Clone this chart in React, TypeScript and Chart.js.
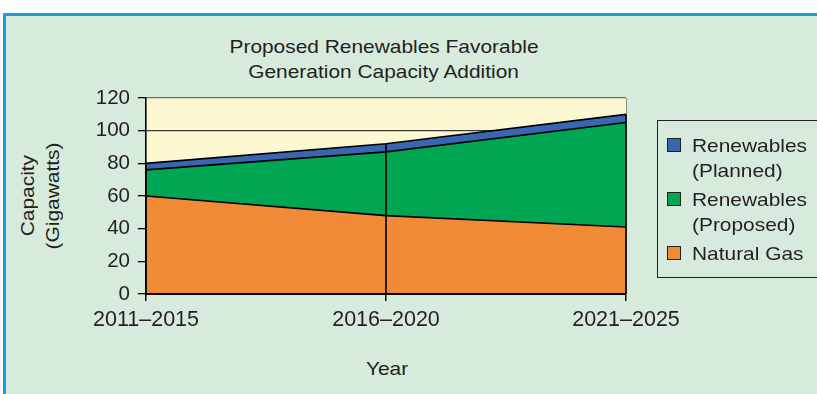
import React, { useEffect, useRef } from "react";
import { Chart, registerables } from "chart.js";

Chart.register(...registerables);

// Capacity additions by period, in gigawatts (stacked bottom to top)
const periods = ["2011–2015", "2016–2020", "2021–2025"];
const naturalGas = [60, 48, 41];
const renewablesProposed = [16, 39, 64];
const renewablesPlanned = [4, 5, 5];

const yMin = 0;
const yMax = 120;
const yStep = 20;

const titleLines = ["Proposed Renewables Favorable", "Generation Capacity Addition"];
const yTitleLines = ["Capacity", "(Gigawatts)"];
const xTitle = "Year";

const COLORS = {
  gas: "#f08a36",
  proposed: "#00a651",
  planned: "#3866b2",
  plot: "#fbf8d2",
  page: "#d7ebdd",
  frame: "#1c9fd9",
  ink: "#231f20",
};

// legend entries, top to bottom
const legendItems = [
  { lines: ["Renewables", "(Planned)"], color: COLORS.planned },
  { lines: ["Renewables", "(Proposed)"], color: COLORS.proposed },
  { lines: ["Natural Gas"], color: COLORS.gas },
];

const FONT = "'Liberation Sans', Arial, Helvetica, sans-serif";

const plotDecor = {
  id: "plotDecor",
  beforeDraw(chart: any) {
    const { ctx, chartArea } = chart;
    ctx.save();
    ctx.fillStyle = COLORS.plot;
    ctx.fillRect(chartArea.left, chartArea.top, chartArea.right - chartArea.left, chartArea.bottom - chartArea.top);
    ctx.restore();
  },
  afterDatasetsDraw(chart: any) {
    const { ctx, chartArea } = chart;
    const xs = chart.scales.x;
    const ys = chart.scales.y;
    ctx.save();
    // right edge of the plot frame
    ctx.strokeStyle = "#8a8a80";
    ctx.lineWidth = 1;
    ctx.beginPath();
    ctx.moveTo(chartArea.right + 0.5, chartArea.top);
    ctx.lineTo(chartArea.right + 0.5, chartArea.bottom);
    ctx.stroke();
    // drop lines from the axis up to each period's stacked total
    ctx.strokeStyle = "#000";
    ctx.lineWidth = 1.6;
    periods.forEach((_, i) => {
      const total = naturalGas[i] + renewablesProposed[i] + renewablesPlanned[i];
      const px = xs.getPixelForValue(i);
      ctx.beginPath();
      ctx.moveTo(px, ys.getPixelForValue(0));
      ctx.lineTo(px, ys.getPixelForValue(total));
      ctx.stroke();
    });
    ctx.restore();
  },
};

function AreaChart() {
  const canvasRef = useRef<HTMLCanvasElement | null>(null);

  useEffect(() => {
    const canvas = canvasRef.current;
    if (!canvas) return;
    const chart = new Chart(canvas, {
      type: "line",
      data: {
        labels: periods,
        datasets: [
          {
            label: "Natural Gas",
            data: naturalGas,
            backgroundColor: COLORS.gas,
            borderColor: "#000",
            borderWidth: 1.6,
            fill: "origin",
            pointRadius: 0,
            tension: 0,
          },
          {
            label: "Renewables (Proposed)",
            data: renewablesProposed,
            backgroundColor: COLORS.proposed,
            borderColor: "#000",
            borderWidth: 1.6,
            fill: "-1",
            pointRadius: 0,
            tension: 0,
          },
          {
            label: "Renewables (Planned)",
            data: renewablesPlanned,
            backgroundColor: COLORS.planned,
            borderColor: "#000",
            borderWidth: 1.6,
            fill: "-1",
            pointRadius: 0,
            tension: 0,
          },
        ],
      },
      options: {
        responsive: false,
        animation: false,
        devicePixelRatio: 1,
        layout: { padding: { left: 0, top: 98, right: 191, bottom: 0 } },
        plugins: {
          legend: { display: false },
          tooltip: { enabled: false },
          title: { display: false },
        },
        scales: {
          x: {
            type: "category",
            offset: false,
            grid: {
              drawOnChartArea: false,
              drawTicks: true,
              tickLength: 7,
              tickColor: "#000",
              lineWidth: 1.5,
            },
            border: { display: true, color: "#000", width: 2, z: 1 },
            ticks: {
              color: COLORS.ink,
              font: { family: FONT, size: 21.5 },
              padding: 6,
              maxRotation: 0,
              autoSkip: false,
            },
            afterFit(scale: any) {
              scale.height = 100;
              scale.paddingLeft = 0;
              scale.paddingRight = 0;
            },
          },
          y: {
            stacked: true,
            min: yMin,
            max: yMax,
            grid: {
              drawOnChartArea: true,
              drawTicks: true,
              tickLength: 8,
              tickColor: "#000",
              lineWidth: 1.3,
              color: (c: any) => (c.tick && c.tick.value === yMax ? "#6e6e66" : "#3a3a36"),
            },
            border: { display: true, color: "#000", width: 1.6, z: 1 },
            ticks: {
              stepSize: yStep,
              color: COLORS.ink,
              font: { family: FONT, size: 20.5 },
              padding: 8,
            },
            afterFit(scale: any) {
              scale.width = 146;
              scale.paddingTop = 0;
              scale.paddingBottom = 0;
            },
          },
        },
      },
      plugins: [plotDecor],
    });
    return () => chart.destroy();
  }, []);

  return (
    <canvas
      ref={canvasRef}
      width={817}
      height={394}
      style={{ position: "absolute", left: 0, top: 0, width: 817, height: 394 }}
    />
  );
}

const textBase: React.CSSProperties = {
  position: "absolute",
  fontFamily: FONT,
  fontSize: 19,
  lineHeight: "25px",
  color: COLORS.ink,
  whiteSpace: "nowrap",
};

function Stretched({ children, origin = "center" }: { children: React.ReactNode; origin?: string }) {
  return (
    <span style={{ display: "inline-block", transform: "scaleX(1.1)", transformOrigin: origin }}>{children}</span>
  );
}

export default function App() {
  return (
    <div
      style={{
        position: "absolute",
        left: 0,
        top: 0,
        width: 817,
        height: 394,
        overflow: "hidden",
        background: "#ffffff",
      }}
    >
      <div
        style={{
          position: "absolute",
          left: 3,
          top: 13,
          width: 900,
          height: 500,
          boxSizing: "border-box",
          border: `3px solid ${COLORS.frame}`,
          background: COLORS.page,
        }}
      />
      <div style={{ ...textBase, left: 384, top: 34, transform: "translateX(-50%)", textAlign: "center" }}>
        {titleLines.map((t) => (
          <div key={t}>
            <Stretched>{t}</Stretched>
          </div>
        ))}
      </div>
      <div
        style={{
          ...textBase,
          left: 40,
          top: 196,
          transform: "translate(-50%, -50%) rotate(-90deg)",
          textAlign: "center",
        }}
      >
        {yTitleLines.map((t) => (
          <div key={t}>
            <Stretched>{t}</Stretched>
          </div>
        ))}
      </div>
      <div style={{ ...textBase, left: 387, top: 356, transform: "translateX(-50%)", textAlign: "center" }}>
        <Stretched>{xTitle}</Stretched>
      </div>
      <AreaChart />
      <div
        style={{
          position: "absolute",
          left: 657,
          top: 120,
          width: 220,
          height: 158,
          boxSizing: "border-box",
          border: `1px solid ${COLORS.ink}`,
        }}
      />
      {legendItems.map((item, i) => {
        const squareTops = [138, 192, 246];
        return (
          <React.Fragment key={item.lines.join(" ")}>
            <div
              style={{
                position: "absolute",
                left: 667,
                top: squareTops[i],
                width: 14,
                height: 14,
                boxSizing: "border-box",
                border: `1px solid ${COLORS.ink}`,
                background: item.color,
              }}
            />
            <div style={{ ...textBase, left: 692, top: squareTops[i] - 5.5 }}>
              {item.lines.map((t) => (
                <div key={t}>
                  <Stretched origin="left">{t}</Stretched>
                </div>
              ))}
            </div>
          </React.Fragment>
        );
      })}
    </div>
  );
}
